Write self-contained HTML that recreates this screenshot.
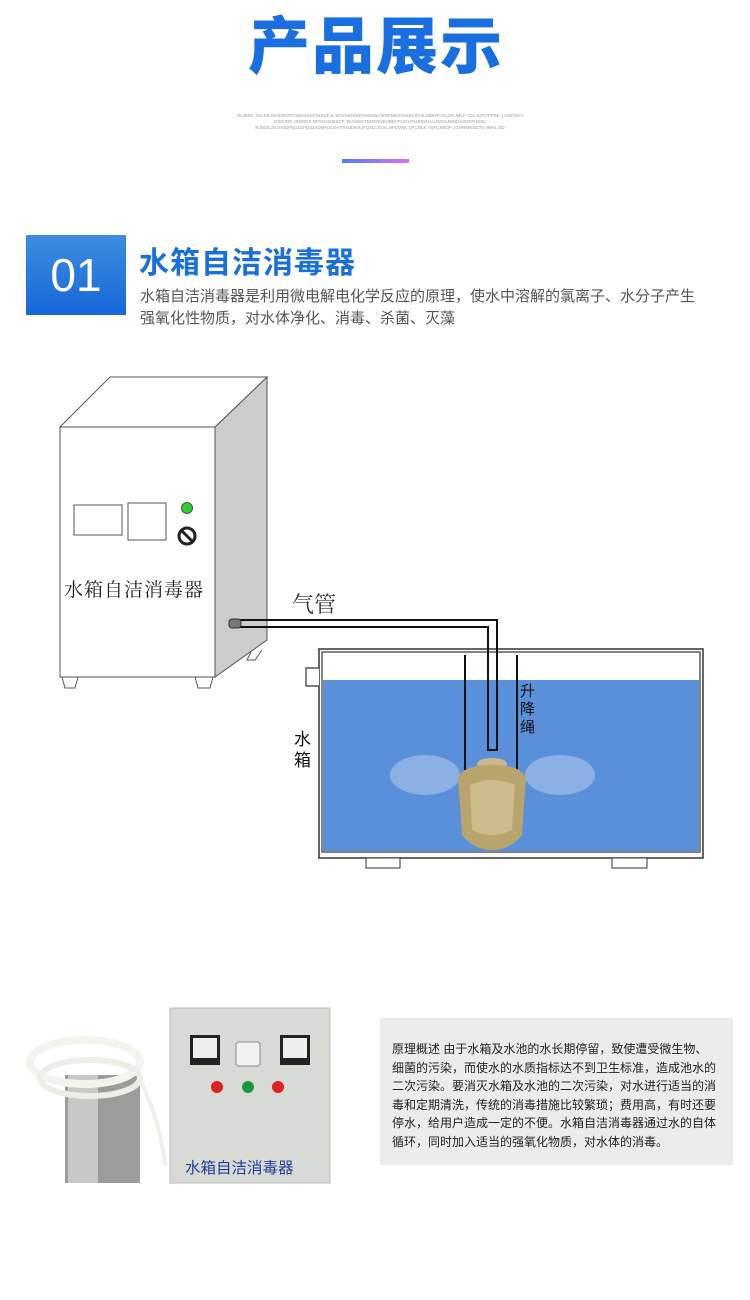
<!DOCTYPE html>
<html><head><meta charset="utf-8"><style>
body{margin:0;background:#fff;}
#p{position:relative;width:750px;height:1300px;overflow:hidden;font-family:"Liberation Sans","Noto Sans CJK SC",sans-serif;}
.a{position:absolute;}
</style></head><body><div id="p">
<div class="a" style="left:236px;top:8px;width:280px;text-align:center;font-size:62px;font-weight:900;color:#1a6fe0;letter-spacing:2px;line-height:80px;">产品展示</div>
<div class="a" style="left:225px;top:113px;width:310px;text-align:center;font-size:4.5px;color:#999;line-height:6px;">OLJKDF JGLDSJHGDIKDFGIHNKSDFIMSDFJL SDVNKHSDFHSDNLGEDFNIKFSADHJFNKJSDHFOSLDKJMLF CDLJDFOPPSE J GNFDKV<br>OSDJOF JSDNGK DFSGHKMSDF JDASDGTNOKRVEHDEFPUGHTHJNDN LVJNCKJMNDASDFFHDSL<br>RJNDKJSCHSDFEIJLEFDSJADMFDLGHTRHJDKRJFOSD JGAL SFDVNK DFCNLK ASFGNKDF JGHRMNSDTV JMAL SD</div>
<div class="a" style="left:342px;top:159px;width:67px;height:4px;background:linear-gradient(90deg,#4f7bff,#dc72f5);"></div>

<div class="a" style="left:26px;top:235px;width:100px;height:80px;background:linear-gradient(180deg,#3f8de0,#1667d8);color:#fff;font-size:46px;line-height:80px;text-align:center;">01</div>
<div class="a" style="left:139px;top:244px;font-size:30px;font-weight:bold;color:#1a6fd8;line-height:40px;letter-spacing:1px;">水箱自洁消毒器</div>
<div class="a" style="left:140px;top:286px;font-size:15px;color:#555;line-height:22px;width:610px;white-space:nowrap;">水箱自洁消毒器是利用微电解电化学反应的原理，使水中溶解的氯离子、水分子产生<br>强氧化性物质，对水体净化、消毒、杀菌、灭藻</div>

<svg class="a" style="left:0;top:0" width="750" height="1000">
<polygon points="215,427 267,377 267,640 215,677" fill="#ccc" stroke="#555" stroke-width="1"/>
<polygon points="60,427 110,377 267,377 215,427" fill="#fff" stroke="#555" stroke-width="1"/>
<rect x="60" y="427" width="155" height="250" fill="#fff" stroke="#555"/>
<path d="M62,677 L65,688 L75,688 L78,677 M195,677 L198,688 L210,688 L213,677 M251,652 L247,660 L255,660 L262,650" fill="none" stroke="#555"/>
<rect x="74" y="505" width="48" height="30" fill="#fff" stroke="#555"/>
<rect x="128" y="503" width="38" height="37" fill="#fff" stroke="#555"/>
<circle cx="187" cy="508" r="5.5" fill="#2ecc2e" stroke="#333" stroke-width="0.8"/>
<circle cx="187" cy="536" r="8" fill="none" stroke="#222" stroke-width="3"/>
<line x1="181" y1="530" x2="193" y2="542" stroke="#222" stroke-width="3"/>
<text x="64" y="596" font-size="19" fill="#222" font-family="Liberation Serif,Noto Serif CJK SC,serif" letter-spacing="1">水箱自洁消毒器</text>
<text x="292" y="612" font-size="22" fill="#333" font-family="Liberation Serif,Noto Serif CJK SC,serif">气管</text>
<rect x="319" y="649" width="384" height="209" fill="#fff" stroke="#333" stroke-width="1.5"/>
<rect x="322" y="652" width="378" height="200" fill="#fff" stroke="#333" stroke-width="1.2"/>
<rect x="323" y="680" width="376" height="171" fill="#5a8fd9"/>
<path d="M319,668 L306,668 L306,686 L319,686" fill="#fff" stroke="#333" stroke-width="1.2"/>
<rect x="366" y="858" width="34" height="10" fill="#fff" stroke="#333"/>
<rect x="612" y="858" width="35" height="10" fill="#fff" stroke="#333"/>
<path d="M232,620 L497,620 L497,750 L488,750 L488,627 L232,627" fill="none" stroke="#111" stroke-width="2"/>
<rect x="229" y="619" width="12" height="9" rx="3" fill="#777" stroke="#333"/>
<line x1="465" y1="655" x2="465" y2="770" stroke="#111" stroke-width="2"/>
<line x1="517" y1="655" x2="517" y2="772" stroke="#111" stroke-width="2"/>
<g fill="#fff">
<ellipse cx="425" cy="775" rx="35" ry="20" opacity="0.3"/>
<ellipse cx="560" cy="775" rx="35" ry="20" opacity="0.3"/>
</g>
<ellipse cx="492" cy="764" rx="15" ry="6" fill="#c9b98a"/>
<path d="M458,780 Q460,765 492,765 Q524,765 526,780 L522,835 Q510,850 492,850 Q474,850 462,835 Z" fill="#b8a56e"/>
<path d="M470,785 Q492,775 515,785 L512,830 Q492,840 472,830Z" fill="#d8caa0" opacity="0.6"/>
<text x="520" y="696" font-size="15" fill="#111">升</text>
<text x="520" y="714" font-size="15" fill="#111">降</text>
<text x="520" y="732" font-size="15" fill="#111">绳</text>
<text x="294" y="745" font-size="17" fill="#111">水</text>
<text x="294" y="766" font-size="17" fill="#111">箱</text>
</svg>

<svg class="a" style="left:0;top:1000px" width="380" height="200">
<rect x="170" y="8" width="160" height="175" fill="#d8dad5" stroke="#bbb"/>
<rect x="190" y="35" width="30" height="30" fill="#222"/><rect x="193" y="38" width="24" height="20" fill="#eee"/>
<rect x="280" y="35" width="30" height="30" fill="#222"/><rect x="283" y="38" width="24" height="20" fill="#eee"/>
<rect x="236" y="42" width="24" height="24" rx="3" fill="#f2f2f2" stroke="#888"/>
<circle cx="217" cy="87" r="6" fill="#d22"/><circle cx="248" cy="87" r="6" fill="#1a9a3a"/><circle cx="278" cy="87" r="6" fill="#d22"/>
<text x="185" y="173" font-size="15.5" fill="#1f3e9c">水箱自洁消毒器</text>
<rect x="65" y="75" width="75" height="108" fill="#9c9c98"/>
<rect x="68" y="75" width="30" height="108" fill="#c8c8c4"/>
<ellipse cx="85" cy="62" rx="55" ry="22" fill="none" stroke="#f4f4ee" stroke-width="8"/>
<ellipse cx="90" cy="78" rx="50" ry="18" fill="none" stroke="#eeeee8" stroke-width="6"/>
<path d="M140,80 Q160,120 165,165" fill="none" stroke="#f0f0ea" stroke-width="4"/>
</svg>

<div class="a" style="left:380px;top:1018px;width:353px;height:147px;background:#ececec;"></div>
<div class="a" style="left:392px;top:1040px;width:350px;font-size:12px;line-height:18.5px;color:#222;white-space:nowrap;">原理概述 由于水箱及水池的水长期停留，致使遭受微生物、<br>细菌的污染，而使水的水质指标达不到卫生标准，造成池水的<br>二次污染。要消灭水箱及水池的二次污染，对水进行适当的消<br>毒和定期清洗，传统的消毒措施比较繁琐；费用高，有时还要<br>停水，给用户造成一定的不便。水箱自洁消毒器通过水的自体<br>循环，同时加入适当的强氧化物质，对水体的消毒。</div>
</div></body></html>
